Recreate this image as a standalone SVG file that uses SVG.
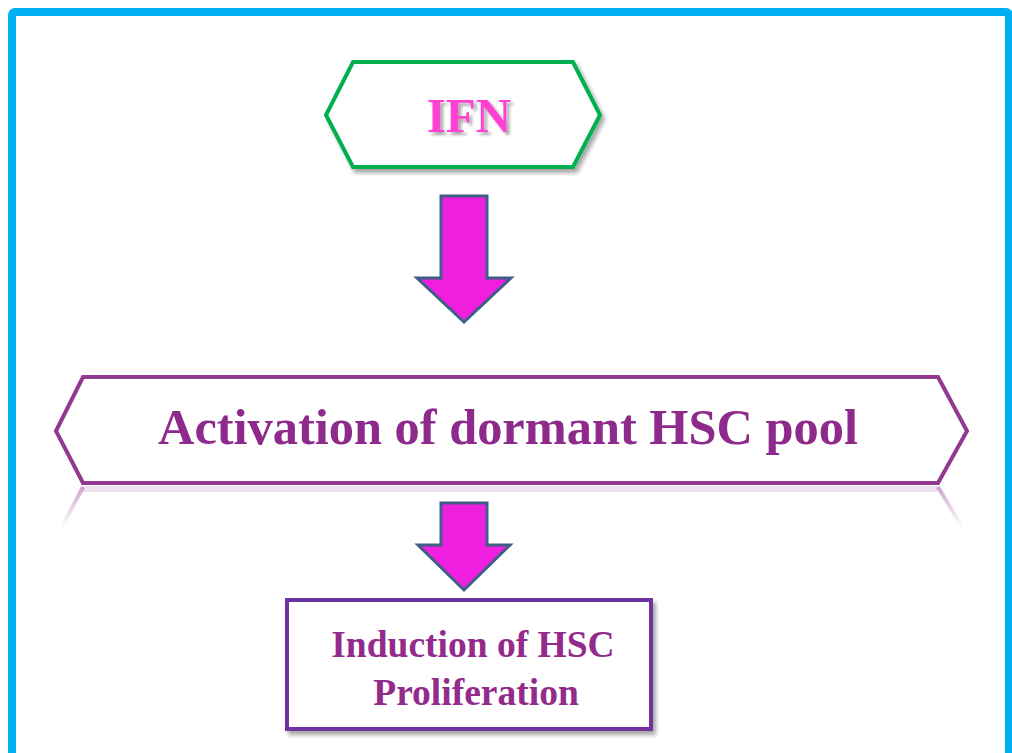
<svg xmlns="http://www.w3.org/2000/svg" width="1012" height="753" viewBox="0 0 1012 753">
<defs>
<filter id="sh" x="-10%" y="-10%" width="130%" height="140%">
<feGaussianBlur in="SourceAlpha" stdDeviation="2"/>
<feOffset dx="3" dy="4" result="b"/>
<feComponentTransfer><feFuncA type="linear" slope="0.35"/></feComponentTransfer>
<feMerge><feMergeNode/><feMergeNode in="SourceGraphic"/></feMerge>
</filter>
<filter id="tsh" x="-10%" y="-10%" width="130%" height="140%">
<feGaussianBlur in="SourceAlpha" stdDeviation="1.5"/>
<feOffset dx="3" dy="3" result="b"/>
<feComponentTransfer><feFuncA type="linear" slope="0.35"/></feComponentTransfer>
<feMerge><feMergeNode/><feMergeNode in="SourceGraphic"/></feMerge>
</filter>
<linearGradient id="refl" x1="0" y1="0" x2="0" y2="1">
<stop offset="0" stop-color="#923A92" stop-opacity="0.45"/>
<stop offset="1" stop-color="#923A92" stop-opacity="0"/>
</linearGradient>
</defs>
<style>
.t{font-family:"Liberation Serif","Times New Roman",serif;font-weight:bold;text-anchor:middle}
.arrow{fill:#F01EDF;stroke:#3E5E86;stroke-width:3;stroke-linejoin:miter}
</style>
<rect x="0" y="0" width="1012" height="753" fill="#ffffff"/>
<rect x="12" y="12" width="997" height="780" rx="3" fill="none" stroke="#00B0F0" stroke-width="8"/>

<g id="ifn">
<polygon points="326,115 353,62 573,62 600,115 573,167 353,167" fill="#ffffff" stroke="#00B050" stroke-width="4" filter="url(#sh)"/>
<text x="469" y="132" class="t" font-size="49" fill="#FF3FD2" filter="url(#tsh)">IFN</text>
</g>

<g id="activation">
<path d="M83,487 L62,527 M938,487 L962,527" stroke="url(#refl)" stroke-width="4" fill="none"/>
<rect x="83" y="486" width="855" height="6" fill="#923A92" opacity="0.15"/>
<polygon points="56,431 83,377 938,377 967,431 938,483 83,483" fill="#ffffff" stroke="#923A92" stroke-width="4"/>
<text x="508" y="444" class="t" font-size="50" fill="#8E2A8C" textLength="700" lengthAdjust="spacingAndGlyphs">Activation of dormant HSC pool</text>
</g>

<g id="proliferation">
<rect x="287" y="600" width="364" height="129" fill="#ffffff" stroke="#7030A0" stroke-width="4" filter="url(#sh)"/>
<text x="473" y="657" class="t" font-size="37.5" fill="#922B8C">Induction of HSC</text>
<text x="476" y="705" class="t" font-size="37.5" fill="#922B8C">Proliferation</text>
</g>

<g id="connectors">
<polygon class="arrow" points="441,196 487,196 487,278 511,278 464,322 417,278 441,278"/>
<polygon class="arrow" points="441,503 487,503 487,545 510,545 464,590 418,545 441,545"/>
</g>
</svg>
